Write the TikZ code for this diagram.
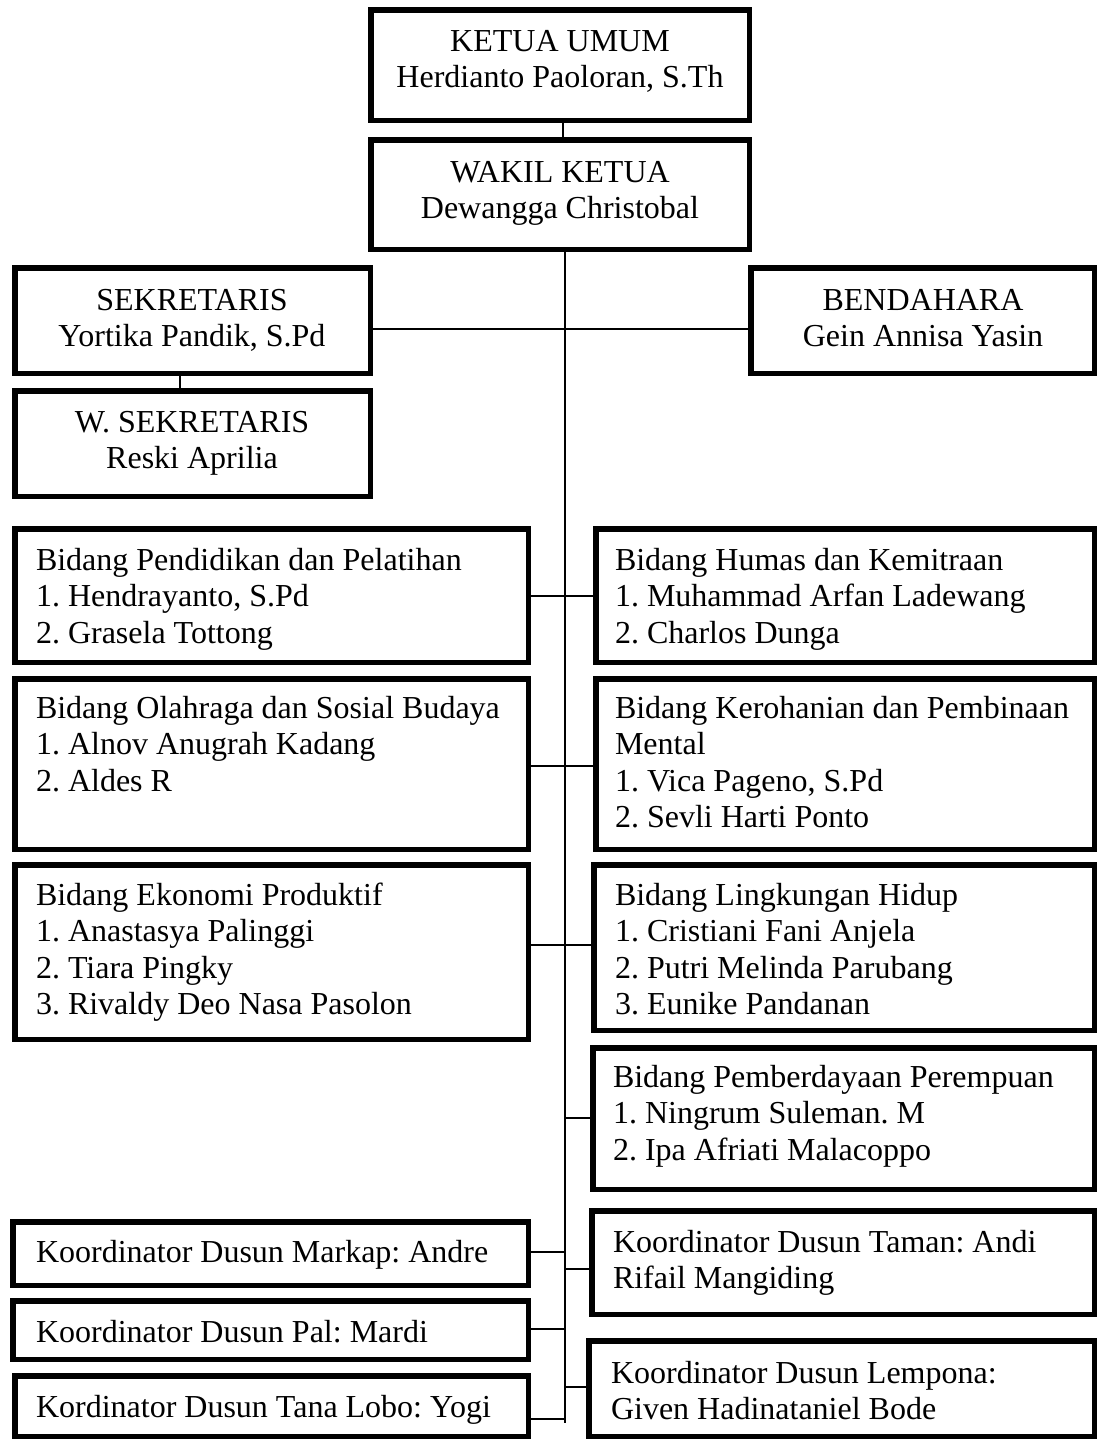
\documentclass[tikz,border=0pt]{standalone}
\usepackage{fontspec}
\setmainfont{Liberation Serif}
\frenchspacing
\usetikzlibrary{fit}
\tikzset{
  box/.style={draw=black, line width=5.5pt, rectangle, inner sep=0pt, outer sep=0pt},
  txt/.style={inner sep=0pt, outer sep=0pt, font=\fontsize{32}{36.6}\selectfont\frenchspacing, align=left, anchor=north west},
  ctxt/.style={inner sep=0pt, outer sep=0pt, font=\fontsize{32}{36.6}\selectfont\frenchspacing, align=center, anchor=north},
  conn/.style={draw=black, line width=1.8pt},
}
\newcommand\obox[5]{\node[box, fit={(#2+2.75,#3+2.75) (#4-2.75,#5-2.75)}] (#1) {};}
\begin{document}
\begin{tikzpicture}[x=1pt,y=-1pt]
\useasboundingbox (0,0) rectangle (1096,1440);
% boxes
\obox{ketua}{368}{7}{752}{123}
\obox{wakil}{368}{137}{752}{252}
\obox{sek}{12}{265}{373}{376}
\obox{bend}{748}{265}{1097}{376}
\obox{wsek}{12}{388}{373}{499}
\obox{pend}{12}{526}{531}{665}
\obox{humas}{593}{526}{1097}{665}
\obox{olah}{12}{676}{531}{852}
\obox{kero}{593}{676}{1097}{852}
\obox{eko}{12}{862}{531}{1042}
\obox{ling}{591}{862}{1097}{1033}
\obox{pemb}{590}{1045}{1097}{1192}
\obox{markap}{10}{1219}{531}{1288}
\obox{taman}{589}{1208}{1097}{1317}
\obox{pal}{10}{1298}{531}{1362}
\obox{tana}{12}{1373}{531}{1439}
\obox{lemp}{586}{1338}{1097}{1439}
% texts
\node[ctxt] (tketua) at (560,51-25.6) {\strut KETUA UMUM\\Herdianto Paoloran, S.Th};
\node[ctxt] (twakil) at (560,182-25.6) {\strut WAKIL KETUA\\Dewangga Christobal};
\node[ctxt] (tsek) at (192,310-25.6) {\strut SEKRETARIS\\Yortika Pandik, S.Pd};
\node[ctxt] (tbend) at (923,310-25.6) {\strut BENDAHARA\\Gein Annisa Yasin};
\node[ctxt] (twsek) at (192,432-25.6) {\strut W. SEKRETARIS\\Reski Aprilia};
\node[txt] (tpend) at (36,570-25.6) {\strut Bidang Pendidikan dan Pelatihan\\1. Hendrayanto, S.Pd\\2. Grasela Tottong};
\node[txt] (thumas) at (615,570-25.6) {\strut Bidang Humas dan Kemitraan\\1. Muhammad Arfan Ladewang\\2. Charlos Dunga};
\node[txt] (tolah) at (36,718-25.6) {\strut Bidang Olahraga dan Sosial Budaya\\1. Alnov Anugrah Kadang\\2. Aldes R};
\node[txt] (tkero) at (615,718-25.6) {\strut Bidang Kerohanian dan Pembinaan\\Mental\\1. Vica Pageno, S.Pd\\2. Sevli Harti Ponto};
\node[txt] (teko) at (36,905-25.6) {\strut Bidang Ekonomi Produktif\\1. Anastasya Palinggi\\2. Tiara Pingky\\3. Rivaldy Deo Nasa Pasolon};
\node[txt] (tling) at (615,905-25.6) {\strut Bidang Lingkungan Hidup\\1. Cristiani Fani Anjela\\2. Putri Melinda Parubang\\3. Eunike Pandanan};
\node[txt] (tpemb) at (613,1087-25.6) {\strut Bidang Pemberdayaan Perempuan\\1. Ningrum Suleman. M\\2. Ipa Afriati Malacoppo};
\node[txt] (tmarkap) at (36,1262-25.6) {\strut Koordinator Dusun Markap: Andre};
\node[txt] (ttaman) at (613,1252-25.6) {\strut Koordinator Dusun Taman: Andi\\Rifail Mangiding};
\node[txt] (tpal) at (36,1342-25.6) {\strut Koordinator Dusun Pal: Mardi};
\node[txt] (ttana) at (36,1417-25.6) {\strut Kordinator Dusun Tana Lobo: Yogi};
\node[txt] (tlemp) at (611,1383-25.6) {\strut Koordinator Dusun Lempona:\\Given Hadinataniel Bode};
% connectors
\coordinate (spineEnd) at (565,1423);
\draw[conn, line width=1.2pt] (ketua.south -| 563,0) -- (wakil.north -| 563,0);
\draw[conn] (wakil.south -| spineEnd) -- (spineEnd);
\draw[conn] (sek.east |- 0,329) -- (bend.west |- 0,329);
\draw[conn, line width=1.2pt] (sek.south -| 180,0) -- (wsek.north -| 180,0);
\draw[conn] (pend.east |- 0,596) -- (humas.west |- 0,596);
\draw[conn] (olah.east |- 0,766) -- (kero.west |- 0,766);
\draw[conn] (eko.east |- 0,945) -- (ling.west |- 0,945);
\draw[conn] (spineEnd |- 0,1118) -- (pemb.west |- 0,1118);
\draw[conn] (markap.east |- 0,1252) -- (spineEnd |- 0,1252);
\draw[conn] (spineEnd |- 0,1269) -- (taman.west |- 0,1269);
\draw[conn] (pal.east |- 0,1329) -- (spineEnd |- 0,1329);
\draw[conn] (spineEnd |- 0,1387) -- (lemp.west |- 0,1387);
\draw[conn] (tana.east |- 0,1419) -- (spineEnd |- 0,1419);
\end{tikzpicture}
\end{document}
